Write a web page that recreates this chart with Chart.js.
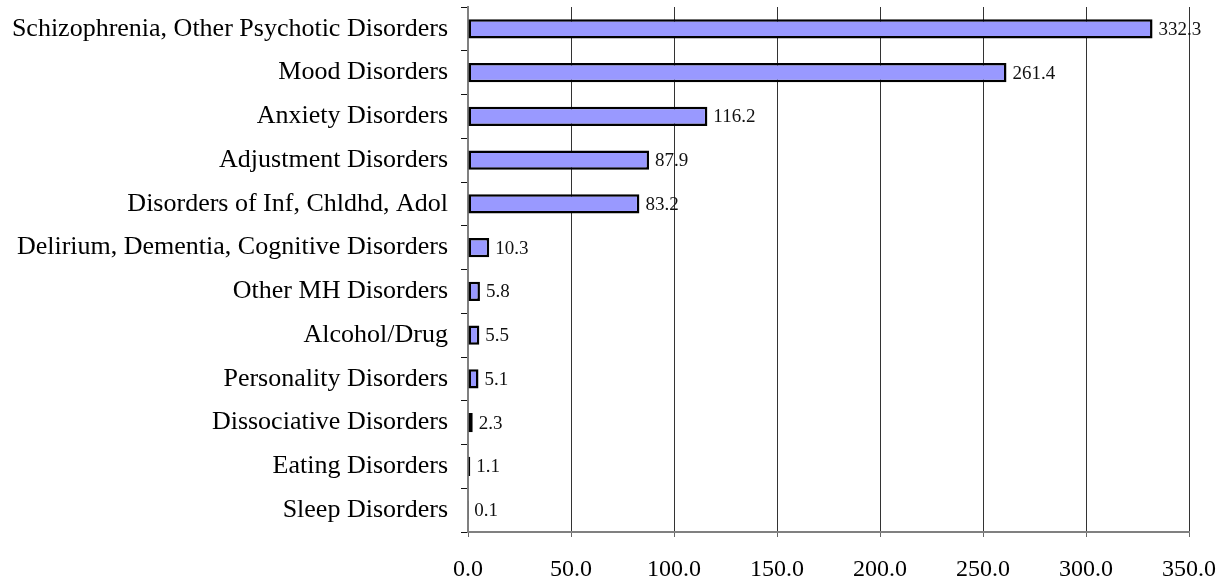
<!DOCTYPE html>
<html>
<head>
<meta charset="utf-8">
<script src="https://cdn.jsdelivr.net/npm/chart.js@4.4.0/dist/chart.umd.min.js"></script>
<style>
  html, body { margin: 0; padding: 0; background: #fff; }
  #wrap { width: 1228px; height: 583px; }
</style>
</head>
<body>
<div id="wrap"><canvas id="chart" width="1228" height="583"></canvas></div>
<script>
// Données du graphique
const categories = [
    'Schizophrenia, Other Psychotic Disorders',
    'Mood Disorders',
    'Anxiety Disorders',
    'Adjustment Disorders',
    'Disorders of Inf, Chldhd, Adol',
    'Delirium, Dementia, Cognitive Disorders',
    'Other MH Disorders',
    'Alcohol/Drug',
    'Personality Disorders',
    'Dissociative Disorders',
    'Eating Disorders',
    'Sleep Disorders'
];
const values = [332.3, 261.4, 116.2, 87.9, 83.2, 10.3, 5.8, 5.5, 5.1, 2.3, 1.1, 0.1];
const xTicks = [0, 50, 100, 150, 200, 250, 300, 350];

const serif = "'Liberation Serif', 'DejaVu Serif', serif";

// Étiquettes de valeurs à droite des barres
const valueLabels = {
    id: 'valueLabels',
    afterDatasetsDraw(chart) {
        const ctx = chart.ctx;
        const meta = chart.getDatasetMeta(0);
        ctx.save();
        ctx.font = '19px ' + serif;
        ctx.fillStyle = '#111';
        ctx.textAlign = 'left';
        ctx.textBaseline = 'middle';
        meta.data.forEach((bar, i) => {
            ctx.fillText(values[i].toFixed(1), bar.x + 6, bar.y + 1);
        });
        ctx.restore();
    }
};

new Chart(document.getElementById('chart').getContext('2d'), {
    type: 'bar',
    data: {
        labels: categories,
        datasets: [{
            data: values,
            backgroundColor: '#9999FF',
            borderColor: '#000',
            borderWidth: 2.5,
            borderSkipped: false,
            barPercentage: 0.44,
            categoryPercentage: 1
        }]
    },
    options: {
        indexAxis: 'y',
        responsive: false,
        animation: false,
        layout: { padding: { top: 7, right: 39, left: 0, bottom: 0 } },
        plugins: {
            legend: { display: false },
            tooltip: { enabled: false }
        },
        scales: {
            x: {
                min: 0,
                max: 350,
                afterBuildTicks: (scale) => {
                    scale.ticks = xTicks.map(v => ({ value: v }));
                },
                afterFit: (scale) => {
                    scale.height = 51;
                    scale.paddingLeft = 0;
                    scale.paddingRight = 0;
                },
                grid: {
                    color: '#333',
                    lineWidth: 1,
                    tickLength: 5,
                    tickColor: '#666'
                },
                border: { color: '#808080', width: 2 },
                ticks: {
                    color: '#000',
                    padding: 18,
                    font: { family: serif, size: 24 },
                    callback: (v) => Number(v).toFixed(1)
                }
            },
            y: {
                afterFit: (scale) => {
                    scale.width = 468;
                    scale.paddingTop = 0;
                    scale.paddingBottom = 0;
                },
                grid: {
                    drawOnChartArea: false,
                    tickLength: 7,
                    color: '#111',
                    offset: true
                },
                border: { color: '#808080', width: 2 },
                ticks: {
                    color: '#000',
                    padding: 13,
                    font: { family: serif, size: 26 }
                }
            }
        }
    },
    plugins: [valueLabels]
});
</script>
</body>
</html>
